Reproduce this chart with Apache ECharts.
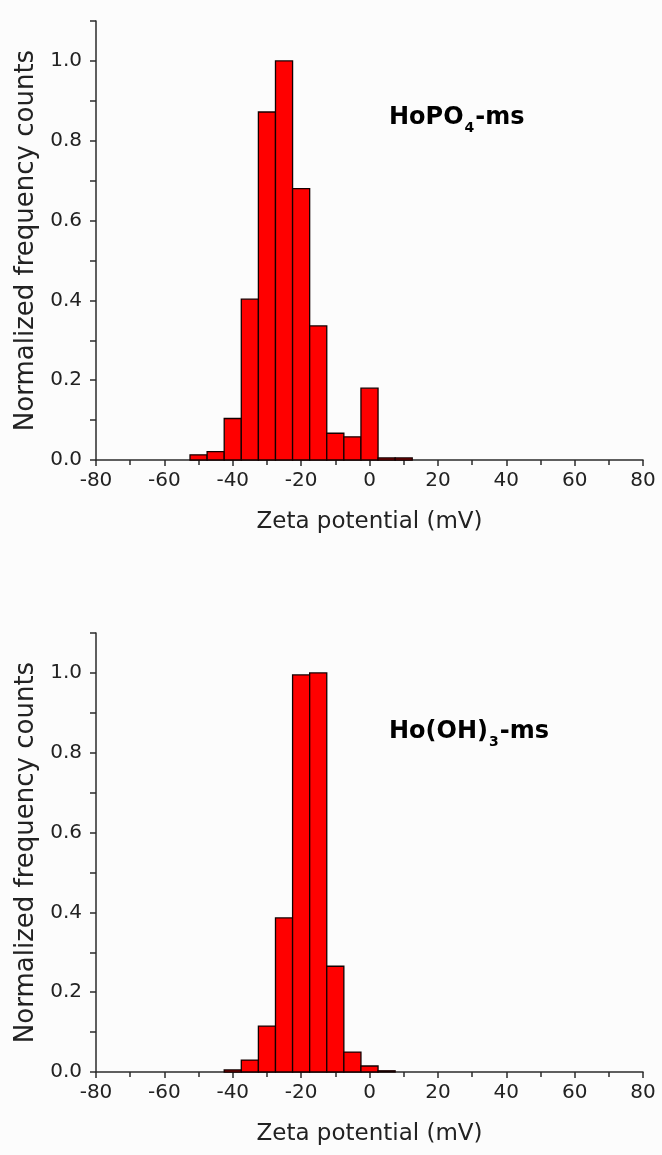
<!DOCTYPE html>
<html>
<head>
<meta charset="utf-8">
<script src="https://cdn.jsdelivr.net/npm/echarts@6/dist/echarts.min.js"></script>
<style>
  html, body {margin: 0; padding: 0; background: #fcfcfc;}
  #chart {width: 662px; height: 1155px;}
</style>
</head>
<body>
<div id="chart"></div>
<script>
  // bin centres (mV), bin width 5 mV
  const hopoBins = [-50, -45, -40, -35, -30, -25, -20, -15, -10, -5, 0, 5, 10];
  const hopoCounts = [0.013, 0.021, 0.104, 0.403, 0.872, 1.0, 0.68, 0.336, 0.067, 0.058, 0.18, 0.005, 0.005];
  const hoohBins = [-40, -35, -30, -25, -20, -15, -10, -5, 0, 5];
  const hoohCounts = [0.005, 0.03, 0.115, 0.386, 0.995, 1.0, 0.265, 0.05, 0.015, 0.003];
  const binWidth = 5;
  const xTicks = [-80, -60, -40, -20, 0, 20, 40, 60, 80];
  const yTicks = [0.0, 0.2, 0.4, 0.6, 0.8, 1.0];
  const labels = ['{b|HoPO}{s|4}{b|-ms}', '{b|Ho(OH)}{s|3}{b|-ms}'];

  const font = 'DejaVu Sans';
  const axisColor = '#2b2b2b';

  function makeX(idx) {
    return {
      type: 'value', gridIndex: idx,
      min: xTicks[0], max: xTicks[xTicks.length - 1], interval: 20,
      name: 'Zeta potential (mV)', nameLocation: 'middle', nameGap: 51,
      nameTextStyle: {fontFamily: font, fontSize: 23, color: '#222'},
      axisLine: {onZero: false, lineStyle: {color: axisColor, width: 1.5}},
      axisTick: {inside: false, length: 6, lineStyle: {color: axisColor, width: 1.5}},
      minorTick: {show: true, splitNumber: 2, length: 5, lineStyle: {color: axisColor, width: 1.5}},
      axisLabel: {fontFamily: font, fontSize: 20, color: '#222', margin: 11},
      splitLine: {show: false}
    };
  }

  function makeY(idx) {
    return {
      type: 'value', gridIndex: idx,
      min: 0, max: 1.1, interval: 0.1,
      name: 'Normalized frequency counts', nameLocation: 'middle', nameGap: 57,
      nameTextStyle: {fontFamily: font, fontSize: 26, color: '#222'},
      axisLine: {show: true, onZero: false, lineStyle: {color: axisColor, width: 1.5}},
      axisTick: {show: true, length: 6, lineStyle: {color: axisColor, width: 1.5}},
      axisLabel: {
        fontFamily: font, fontSize: 20, color: '#222', margin: 14,
        formatter: v => yTicks.some(t => Math.abs(t - v) < 1e-6) ? v.toFixed(1) : ''
      },
      splitLine: {show: false}
    };
  }

  function histSeries(idx, bins, counts) {
    return {
      type: 'custom', xAxisIndex: idx, yAxisIndex: idx,
      data: bins.map((b, i) => [b, counts[i]]),
      renderItem: (params, api) => {
        const x = api.value(0), y = api.value(1);
        const p1 = api.coord([x - binWidth / 2, y]);
        const p2 = api.coord([x + binWidth / 2, 0]);
        return {
          type: 'rect',
          shape: {x: p1[0], y: p1[1], width: p2[0] - p1[0], height: p2[1] - p1[1]},
          style: {fill: '#ff0000', stroke: '#140000', lineWidth: 1.3}
        };
      }
    };
  }

  const richText = {
    b: {fontFamily: font, fontWeight: 'bold', fontSize: 24, color: '#1a1a1a'},
    s: {fontFamily: font, fontWeight: 'bold', fontSize: 14, color: '#1a1a1a', padding: [20, 1, 0, 1]}
  };

  const chart = echarts.init(document.getElementById('chart'), null, {renderer: 'canvas'});
  chart.setOption({
    backgroundColor: '#fcfcfc',
    animation: false,
    grid: [
      {left: 96, right: 19, top: 21, height: 439},
      {left: 96, right: 19, top: 633, height: 439}
    ],
    xAxis: [makeX(0), makeX(1)],
    yAxis: [makeY(0), makeY(1)],
    series: [
      histSeries(0, hopoBins, hopoCounts),
      histSeries(1, hoohBins, hoohCounts)
    ],
    graphic: [
      {type: 'text', left: 389, top: 106, style: {text: labels[0], rich: richText}},
      {type: 'text', left: 389, top: 720, style: {text: labels[1], rich: richText}}
    ]
  });
</script>
</body>
</html>
